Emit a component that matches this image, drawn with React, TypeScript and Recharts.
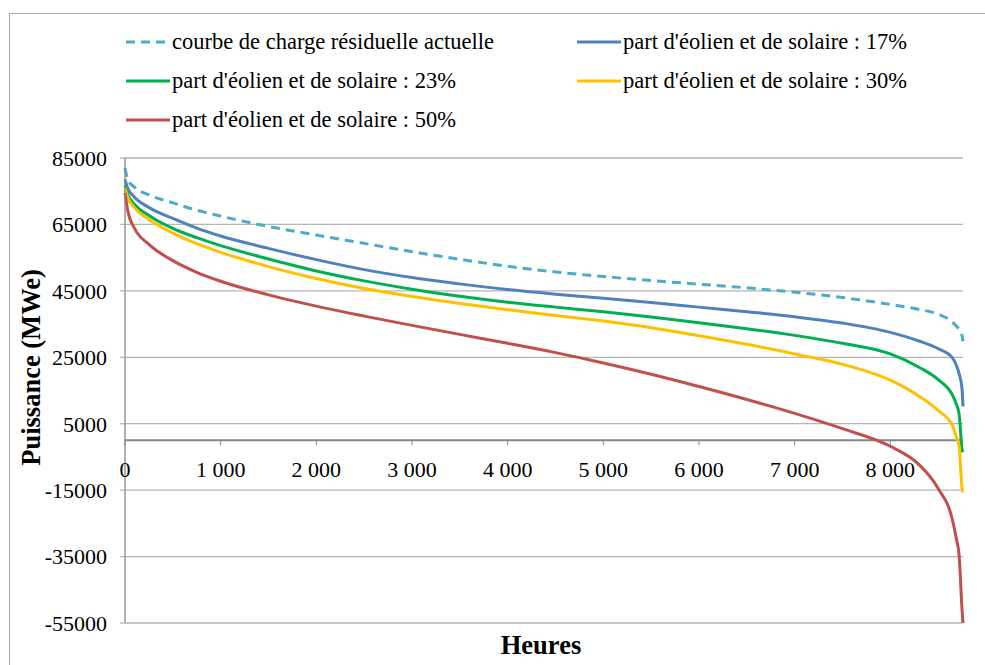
import { LineChart, Line, XAxis, YAxis, CartesianGrid, ReferenceLine, ReferenceDot, Label } from 'recharts';

const FONT = '"Liberation Serif", "Times New Roman", serif';

const HOURS = [0, 30, 100, 250, 500, 750, 1000, 1500, 2000, 2500, 3000, 3500, 4000, 4500, 5000, 5500, 6000, 6500, 7000, 7500, 8000, 8300, 8500, 8650, 8690, 8720, 8750, 8760];
const CURRENT = [82000, 78500, 76200, 73900, 71500, 69300, 67500, 64400, 61800, 59300, 56800, 54500, 52400, 50700, 49300, 48100, 47000, 45900, 44600, 43000, 40900, 39400, 38000, 35600, 34400, 33300, 31500, 29800];
const SHARE_17 = [78500, 75800, 73200, 70100, 66800, 63900, 61500, 57800, 54400, 51400, 49000, 47100, 45400, 44000, 42800, 41500, 40100, 38700, 37200, 35300, 32500, 29900, 27600, 24800, 22600, 20000, 15500, 10200];
const SHARE_23 = [77000, 74000, 71000, 67700, 63800, 61000, 58600, 54600, 51000, 48000, 45500, 43400, 41600, 40100, 38700, 37100, 35400, 33600, 31600, 29200, 26000, 22000, 18300, 13600, 10900, 7800, -2800, -3600];
const SHARE_30 = [76000, 73000, 70000, 66500, 62400, 59200, 56600, 52300, 48700, 45700, 43300, 41200, 39300, 37600, 35900, 33900, 31500, 28900, 26000, 22900, 18100, 13300, 9000, 4400, 1000, -1800, -14500, -15600];
const SHARE_50 = [74500, 69000, 63800, 59000, 54100, 50600, 47900, 43800, 40400, 37400, 34600, 31900, 29200, 26400, 23300, 19900, 16200, 12300, 8100, 3500, -1800, -7300, -14500, -24000, -29500, -34800, -51000, -55000];

const Y_TICKS = [85000, 65000, 45000, 25000, 5000, -15000, -35000, -55000];
const X_TICKS = [0, 1000, 2000, 3000, 4000, 5000, 6000, 7000, 8000];

const SERIES = [
  { key: 'current', name: 'courbe de charge résiduelle actuelle', color: '#4bacc6', dashed: true },
  { key: 's17', name: "part d'éolien et de solaire : 17%", color: '#4f81bd' },
  { key: 's23', name: "part d'éolien et de solaire : 23%", color: '#00b050' },
  { key: 's30', name: "part d'éolien et de solaire : 30%", color: '#ffc000' },
  { key: 's50', name: "part d'éolien et de solaire : 50%", color: '#c0504d' },
];

const data = HOURS.map((hour, i) => ({
  hour,
  current: CURRENT[i],
  s17: SHARE_17[i],
  s23: SHARE_23[i],
  s30: SHARE_30[i],
  s50: SHARE_50[i],
}));

const fmtHours = (v: number) => String(v).replace(/\B(?=(\d{3})+(?!\d))/g, ' ');

function XTick(label: string) {
  return (props: any) => {
    const { cx, cy } = props;
    return (
      <g>
        <line x1={cx} x2={cx} y1={cy} y2={cy + 5} stroke="#868686" strokeWidth={1} />
        <text x={cx} y={cy + 29} textAnchor="middle" dominantBaseline="central" fontSize={22} fontFamily={FONT} fill="#000">
          {label}
        </text>
      </g>
    );
  };
}

function YTitle(props: any) {
  const vb = props.viewBox ?? { y: 158, height: 465 };
  const y = vb.y + vb.height / 2 - 23;
  return (
    <text x={31} y={y} transform={`rotate(-90, 31, ${y})`} textAnchor="middle" dominantBaseline="central"
      fontSize={26.5} fontWeight="bold" fontFamily={FONT} fill="#000">
      Puissance (MWe)
    </text>
  );
}

function XTitle(props: any) {
  const vb = props.viewBox ?? { x: 125, width: 838 };
  return (
    <text x={vb.x + vb.width / 2 - 3} y={645} textAnchor="middle" dominantBaseline="central"
      fontSize={26.5} fontWeight="bold" fontFamily={FONT} fill="#000">
      Heures
    </text>
  );
}

function LegendBox() {
  const pos = [
    { left: 126, top: 42 },
    { left: 577, top: 42 },
    { left: 126, top: 81 },
    { left: 577, top: 81 },
    { left: 126, top: 120 },
  ];
  return (
    <>
      {SERIES.map((s, i) => (
        <div key={s.key} style={{ position: 'absolute', left: pos[i].left, top: pos[i].top - 14, height: 28, display: 'flex', alignItems: 'center', whiteSpace: 'nowrap' }}>
          <svg width={44} height={6} style={{ display: 'block' }}>
            <line x1={0} x2={44} y1={3} y2={3} stroke={s.color} strokeWidth={3} strokeDasharray={s.dashed ? '9 6' : undefined} />
          </svg>
          <span style={{ fontFamily: FONT, fontSize: 22.5, color: '#000', marginLeft: 2 }}>{s.name}</span>
        </div>
      ))}
    </>
  );
}

export default function App() {
  return (
    <div style={{ position: 'absolute', left: 0, top: 0, width: 985, height: 665, overflow: 'hidden', background: '#fff' }}>
      <div style={{ position: 'absolute', left: 9, top: 13, width: 1000, height: 700, border: '1px solid #a6a6a6' }} />
      <LegendBox />
      <div style={{ position: 'absolute', left: 0, top: 0 }}>
        <LineChart width={985} height={665} data={data} margin={{ top: 158, right: 22, bottom: 0, left: 0 }}>
          <CartesianGrid vertical={false} stroke="#b5b5b5" strokeWidth={1.3} />
          <XAxis type="number" dataKey="hour" domain={[0, 8760]} ticks={X_TICKS} height={42} tick={false} axisLine={false} tickLine={false}>
            <Label content={XTitle} />
          </XAxis>
          <YAxis
            type="number"
            domain={[-55000, 85000]}
            ticks={Y_TICKS}
            interval={0}
            width={125}
            tickSize={5}
            tickMargin={13}
            axisLine={{ stroke: '#868686', strokeWidth: 1.3 }}
            tickLine={{ stroke: '#b5b5b5', strokeWidth: 1.3 }}
            tick={{ fontSize: 22, fill: '#000', fontFamily: FONT }}
          >
            <Label content={YTitle} />
          </YAxis>
          <ReferenceLine y={0} stroke="#868686" strokeWidth={2} />
          {X_TICKS.map((t) => (
            <ReferenceDot key={t} x={t} y={0} r={1} shape={XTick(fmtHours(t))} />
          ))}
          {SERIES.map((s) => (
            <Line
              key={s.key}
              dataKey={s.key}
              name={s.name}
              type="monotone"
              stroke={s.color}
              strokeWidth={3}
              strokeDasharray={s.dashed ? '9 6' : undefined}
              dot={false}
              activeDot={false}
              isAnimationActive={false}
            />
          ))}
        </LineChart>
      </div>
    </div>
  );
}
